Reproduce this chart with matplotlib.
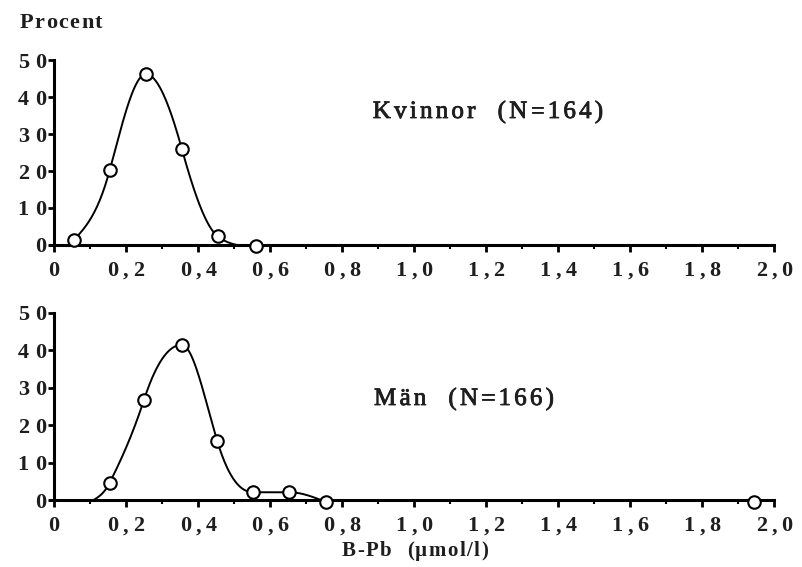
import numpy as np
import matplotlib
matplotlib.use("Agg")
import matplotlib.pyplot as plt
import matplotlib.patheffects as pe
from matplotlib.ticker import MultipleLocator
from matplotlib.transforms import IdentityTransform

plt.rcParams['font.family'] = ['Liberation Serif', 'DejaVu Serif']

# Kvinnor (N=164)
kv_x = [0.055, 0.155, 0.255, 0.355, 0.455, 0.56]
kv_y = [1.3, 20.3, 46.2, 26.0, 2.3, -0.3]

# Män (N=166)
man_x = [0.155, 0.25, 0.355, 0.453, 0.553, 0.653, 0.755]
man_y = [4.7, 26.8, 41.5, 15.9, 2.1, 2.1, -0.5]
man_curve_start = (0.11, 0.0)   # where the drawn curve leaves the axis
man_extra_x = [1.945]           # isolated point, no curve
man_extra_y = [-0.6]

x_ticks = [0, 0.2, 0.4, 0.6, 0.8, 1.0, 1.2, 1.4, 1.6, 1.8, 2.0]
x_labels = ["0", "0,2", "0,4", "0,6", "0,8", "1,0", "1,2",
            "1,4", "1,6", "1,8", "2,0"]
y_ticks = [0, 10, 20, 30, 40, 50]
y_labels = ["0", "10", "20", "30", "40", "50"]

INK = '#1e1e1e'


def smooth(xs, ys, n=40):
    # cubic hermite through the points, steeper slopes on the flanks,
    # clamped (Fritsch-Carlson) so it never overshoots between points
    xs = np.asarray(xs, float)
    ys = np.asarray(ys, float)
    d = np.diff(ys) / np.diff(xs)
    m = np.zeros_like(ys)
    m[1:-1] = (ys[2:] - ys[:-2]) / (xs[2:] - xs[:-2])
    m[1:-1] *= np.where(ys[1:-1] > 10, 1.6, 1.0)
    for i in range(1, len(ys) - 1):
        if d[i - 1] * d[i] <= 0:
            m[i] = 0
        else:
            lim = 3 * min(abs(d[i - 1]), abs(d[i]))
            m[i] = np.sign(m[i]) * min(abs(m[i]), lim)
    m[0] = (3 * d[0] - m[1]) / 2
    m[-1] = (3 * d[-1] - m[-2]) / 2
    if m[0] * d[0] < 0:
        m[0] = 0
    if m[-1] * d[-1] < 0:
        m[-1] = 0
    out_x, out_y = [], []
    for i in range(len(xs) - 1):
        h = xs[i + 1] - xs[i]
        t = np.linspace(0, 1, n)
        h00 = 2 * t**3 - 3 * t**2 + 1
        h10 = t**3 - 2 * t**2 + t
        h01 = -2 * t**3 + 3 * t**2
        h11 = t**3 - t**2
        out_x.append(xs[i] + t * h)
        out_y.append(h00 * ys[i] + h10 * h * m[i] + h01 * ys[i + 1] + h11 * h * m[i + 1])
    return np.concatenate(out_x), np.concatenate(out_y)


def tracked_text(fig, x, y, s, track, ha='center', va='center', **kw):
    # letter-spaced text at pixel position (x, y), origin bottom-left
    r = fig.canvas.get_renderer()

    def width(txt):
        t = fig.text(0, 0, txt + "|", transform=IdentityTransform(), **kw)
        w = t.get_window_extent(r).width
        t.remove()
        return w

    bar = width("")
    adv = [width(s[:i]) - bar for i in range(len(s) + 1)]
    total = adv[-1] + track * (len(s) - 1)
    x0 = {'center': x - total / 2, 'left': x, 'right': x - total}[ha]
    for i, ch in enumerate(s):
        if ch == " ":
            continue
        fig.text(x0 + adv[i] + i * track, y, ch, transform=IdentityTransform(),
                 ha='left', va=va, **kw)


def style_axis(ax):
    ax.set_xlim(0, 2.0)
    ax.set_ylim(0, 50)
    for s in ['top', 'right']:
        ax.spines[s].set_visible(False)
    ax.spines['left'].set_linewidth(2.2)
    ax.spines['bottom'].set_linewidth(2.2)
    ax.spines['bottom'].set_bounds(-0.01, 2.0)
    ax.set_xticks(x_ticks)
    ax.set_xticklabels([])
    ax.xaxis.set_minor_locator(MultipleLocator(0.1))
    ax.set_yticks(y_ticks)
    ax.set_yticklabels([])
    ax.tick_params(axis='x', which='major', direction='out', length=5, width=2)
    ax.tick_params(axis='x', which='minor', direction='out', length=3, width=1.5)
    ax.tick_params(axis='y', direction='out', length=4, width=2)

    # letter-spaced tick labels like the original typesetting
    lab = dict(fontsize=16, fontweight='bold', color=INK)
    for xv, s in zip(x_ticks, x_labels):
        px, py = ax.transData.transform((xv, 0))
        tracked_text(fig, px, py - 31, s, 4.5, ha='center', va='baseline', **lab)
    for yv, s in zip(y_ticks, y_labels):
        px, py = ax.transData.transform((0, yv))
        tracked_text(fig, px - 8, py - 7.5, s, 6, ha='right', va='baseline', **lab)


fig = plt.figure(figsize=(8.02, 5.67), dpi=100)
ax1 = fig.add_axes([0.0673, 0.568, 0.898, 0.326])
ax2 = fig.add_axes([0.0673, 0.118, 0.898, 0.330])

mk = dict(marker='o', markersize=9, markerfacecolor='white',
          markeredgecolor='black', markeredgewidth=1.5, linestyle='none',
          zorder=5, clip_on=False)

cx, cy = smooth(kv_x, kv_y)
ax1.plot(cx, cy, color='black', lw=1.4, clip_on=False)
ax1.plot(kv_x, kv_y, **mk)
style_axis(ax1)

cx, cy = smooth([man_curve_start[0]] + man_x, [man_curve_start[1]] + man_y)
ax2.plot(cx, cy, color='black', lw=1.4, clip_on=False)
ax2.plot(man_x, man_y, **mk)
ax2.plot(man_extra_x, man_extra_y, **mk)
style_axis(ax2)

H = 567
heavy = [pe.withStroke(linewidth=0.6, foreground=INK)]
tracked_text(fig, 488, H - 118, "Kvinnor  (N=164)", 3.2, va='baseline',
             fontsize=18, color=INK, path_effects=heavy)
tracked_text(fig, 464, H - 405, "Män  (N=166)", 3.2, va='baseline',
             fontsize=18, color=INK, path_effects=heavy)
tracked_text(fig, 61, H - 23, "Procent", 1.5, fontsize=16, fontweight='bold', color=INK)
tracked_text(fig, 415, H - 551, "B-Pb  (µmol/l)", 1.5, fontsize=15, fontweight='bold', color=INK)

fig.savefig("out.png", dpi=100, facecolor='white')
